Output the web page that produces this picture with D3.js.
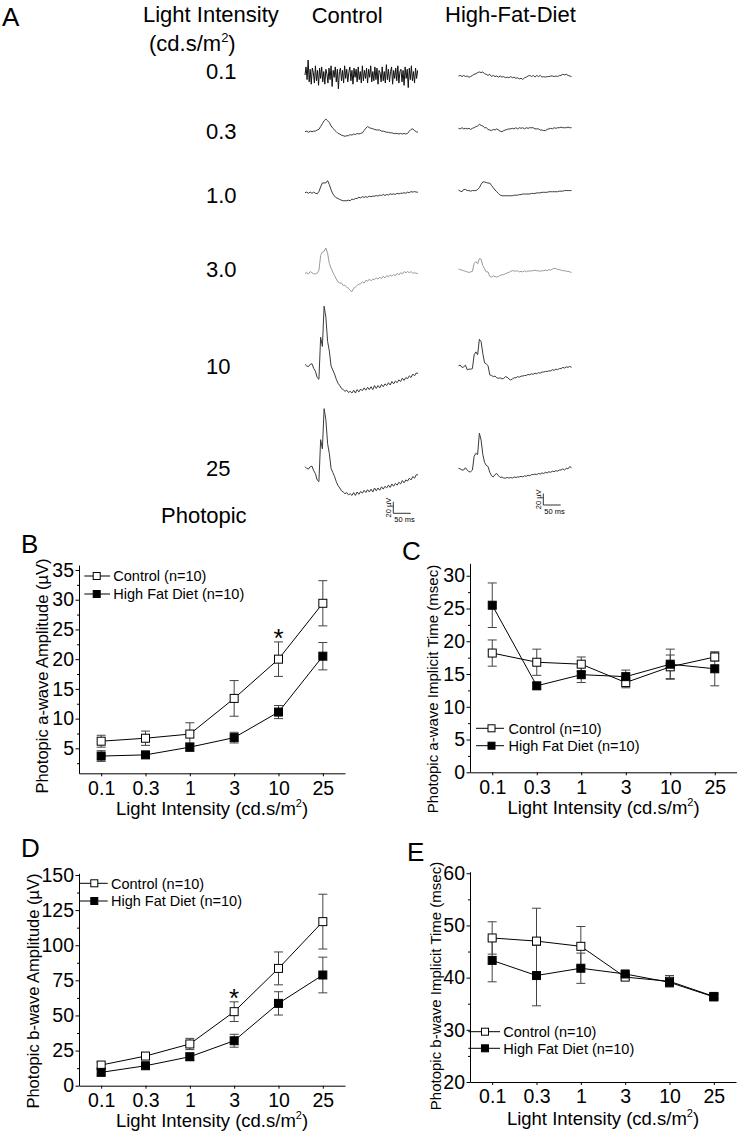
<!DOCTYPE html>
<html><head><meta charset="utf-8">
<script src="https://cdn.jsdelivr.net/npm/d3@7"></script>
<style>
body{margin:0;background:#fff}
svg{display:block}
text{font-family:"Liberation Sans",Arial,Helvetica,sans-serif;fill:#000}
</style>
</head><body>
<svg id="fig" width="737" height="1131"></svg>
<script>
// ================= DATA =================
const intensities = ["0.1","0.3","1","3","10","25"];
const intensityLabelsA = ["0.1","0.3","1.0","3.0","10","25"];
const seriesNames = ["Control (n=10)","High Fat Diet (n=10)"];

// B: photopic a-wave amplitude (µV)
const aAmpCtrl    = [6.2, 6.7, 7.4, 13.4, 20.0, 29.4];
const aAmpCtrlErr = [1.0, 1.2, 1.9, 3.0, 2.9, 3.8];
const aAmpHfd     = [3.7, 3.9, 5.2, 6.8, 11.1, 20.5];
const aAmpHfdErr  = [0.9, 0.5, 0.7, 0.9, 1.1, 2.3];
// C: photopic a-wave implicit time (msec)
const aTimeCtrl    = [18.2, 16.8, 16.5, 13.7, 16.1, 17.6];
const aTimeCtrlErr = [2.0, 2.0, 1.1, 0.8, 1.8, 0.6];
const aTimeHfd     = [25.5, 13.2, 14.9, 14.6, 16.5, 15.8];
const aTimeHfdErr  = [3.4, 0.5, 1.2, 1.0, 2.3, 2.6];
// D: photopic b-wave amplitude (µV)
const bAmpCtrl    = [14.7, 21.1, 29.7, 52.7, 83.5, 116.8];
const bAmpCtrlErr = [2.0, 2.0, 4.0, 7.0, 11.7, 19.5];
const bAmpHfd     = [9.5, 14.2, 20.6, 32.0, 58.6, 78.8];
const bAmpHfdErr  = [2.0, 1.5, 2.5, 4.6, 8.3, 12.7];
// E: photopic b-wave implicit time (msec)
const bTimeCtrl    = [47.6, 47.0, 46.0, 40.1, 39.3, 36.4];
const bTimeCtrlErr = [3.1, 6.3, 3.8, 0.5, 1.1, 0.4];
const bTimeHfd     = [43.3, 40.4, 41.8, 40.7, 39.1, 36.3];
const bTimeHfdErr  = [4.1, 5.8, 2.9, 0.5, 0.6, 0.4];

const sigB = ["10"];
const sigD = ["3"];

// A: ERG traces (µV), sampled every traceStepMs (noisy 0.1 control every noiseStepMs)
const traceStepMs = 5;
const noiseStepMs = 3;
const ctrl01 = [0,14,-8,26,-12,10,-16,12,4,-14,16,-10,8,-18,12,-6,14,-12,6,-16,10,2,-14,12,-8,16,-20,8,-4,14,-12,10,-24,6,12,-10,8,-14,16,-6,10,-12,4,14,-10,8,-16,12,-4,10,-12,14,-8,6,-14,16,-10,8,-6,12,-14,10,-4,16,-12,6,-10,14,-8,12,-16,8,4,-12,14,-10,6,-14,18,-8,10,-12,6,14,-16,8,-6,12,-10,16,-14,6,10,-12,8,-18,14,-6,10,-22,12,-8,16,-10,6,-14,12,-6,8];
const ctrl03 = [0,1,-1,1,0,1,1,3,4,9,14,19,22,19,16,10,6,3,0,-3,-4,-6,-7,-8,-7,-7,-5,-6,-4,-5,-3,-4,-3,-2,2,6,9,7,6,5,4,3,3,3,1,1,0,-1,-1,-2,-2,-3,-3,-3,-4,-3,-4,-3,-4,-3,1,4,5,2,0,-1];
const ctrl1 = [0,1,-1,1,-1,1,-1,-2,2,10,17,17,17,21,14,5,-2,-6,-9,-10,-12,-13,-14,-14,-14,-13,-14,-11,-12,-10,-10,-8,-9,-7,-8,-7,-8,-6,-7,-6,-6,-5,-6,-4,-5,-3,-5,-3,-4,-2,-3,-2,-3,-1,-2,-1,-1,0,-1,1,0,2,1,2,1,1];
const ctrl3 = [0,1,-1,3,1,-1,-1,0,5,31,37,38,44,35,17,9,2,-4,-10,-15,-17,-17,-21,-21,-24,-26,-30,-32,-26,-24,-21,-19,-18,-15,-17,-12,-14,-10,-13,-10,-11,-8,-10,-7,-9,-5,-8,-4,-6,-3,-5,-2,-4,0,-3,1,-1,3,1,3,1,3,0,1,0,0];
const ctrl10 = [0,-3,-4,0,1,-7,-12,-23,-26,47,31,101,82,40,23,-3,-10,-17,-26,-33,-37,-42,-44,-47,-45,-49,-47,-50,-45,-50,-44,-48,-43,-46,-41,-45,-40,-44,-39,-44,-37,-42,-37,-41,-35,-39,-34,-37,-32,-36,-30,-34,-29,-32,-27,-30,-24,-28,-23,-25,-20,-23,-17,-20,-15,-16];
const ctrl25 = [0,-3,-4,0,1,-7,-12,-23,-26,47,31,101,82,40,23,-3,-10,-17,-26,-33,-37,-42,-44,-47,-45,-49,-47,-50,-45,-50,-44,-48,-43,-46,-41,-45,-40,-44,-39,-44,-37,-42,-37,-41,-35,-39,-34,-37,-32,-36,-30,-34,-29,-32,-27,-30,-24,-28,-23,-25,-20,-23,-17,-20,-14,-14];
const hfd01 = [0,1,-1,1,-1,0,-2,-1,1,3,4,6,7,6,7,4,3,1,3,-1,1,-1,0,-2,0,-2,-1,-3,-2,-3,-1,-3,-2,-4,-3,-5,-4,-6,-3,-2,0,1,-1,1,-2,1,-1,1,-2,-1,-2,-1,-1,0,0,-1,0,-1,1,1,3,2,3,1,0,-1];
const hfd03 = [0,-1,1,-1,0,-1,0,-2,0,1,3,4,7,5,4,1,1,-2,-3,-4,-2,-3,-1,-3,-5,-6,-4,-3,-2,-1,-1,0,-1,1,-1,1,0,1,-1,1,0,1,1,1,-1,-1,-1,-3,-3,-4,-4,-2,-1,0,-1,1,0,1,1,2,1,1,1,2,1,1];
const hfd1 = [0,-2,-3,1,1,-1,-1,-2,-1,-1,-1,1,4,10,14,14,13,12,12,8,4,0,-3,-6,-9,-10,-10,-10,-10,-10,-10,-10,-9,-9,-9,-8,-8,-7,-7,-7,-7,-7,-6,-6,-6,-5,-5,-5,-4,-4,-4,-4,-3,-3,-3,-3,-3,-3,-2,-2,-2,-1,-1,-1,-1,-1];
const hfd3 = [0,-1,-2,-3,-4,-5,-6,-5,-4,10,13,9,18,17,6,0,-5,-5,-13,-14,-12,-13,-14,-13,-11,-10,-10,-8,-7,-6,-4,-3,-3,-4,-3,-5,-4,-5,-3,-5,-3,-4,-3,-3,-2,-3,-3,-4,-3,-3,-2,-3,-1,-2,0,1,1,-1,-1,-2,-3,-3,-4,-4,-5,-6];
const hfd10 = [0,1,-3,-2,1,-7,-6,-6,-5,19,24,19,46,42,21,5,3,0,-16,-17,-19,-18,-21,-22,-21,-23,-22,-19,-20,-23,-25,-23,-21,-21,-19,-20,-18,-18,-17,-17,-15,-16,-14,-15,-13,-14,-12,-13,-11,-11,-10,-10,-9,-9,-7,-8,-6,-7,-5,-5,-3,-4,-2,-3,-1,-3];
const hfd25 = [0,-1,-3,-3,1,-3,-6,-6,-3,21,26,24,61,49,24,10,5,3,-7,-13,-15,-11,-9,-13,-16,-15,-17,-17,-16,-17,-16,-17,-15,-16,-15,-15,-14,-15,-13,-14,-12,-13,-11,-11,-10,-11,-9,-10,-8,-9,-7,-8,-6,-7,-5,-6,-4,-5,-3,-3,-1,-3,0,-1,3,1];
const scaleBarUV = 20, scaleBarMs = 50;

// ================= DRAW =================
const FONT = '"Liberation Sans", Arial, Helvetica, sans-serif';
const svg = d3.select("#fig");

// ---- Panel A ----
const gA = svg.append("g");
gA.append("text").attr("x",2).attr("y",26).attr("font-size",26).text("A");
gA.append("text").attr("x",143).attr("y",22).attr("font-size",22).text("Light Intensity");
const unitT = gA.append("text").attr("x",149).attr("y",51).attr("font-size",22);
unitT.append("tspan").text("(cd.s/m");
unitT.append("tspan").attr("font-size",13).attr("dy",-9).text("2");
unitT.append("tspan").attr("dy",9).text(")");
gA.append("text").attr("x",311.7).attr("y",23).attr("font-size",22).text("Control");
gA.append("text").attr("x",445).attr("y",22).attr("font-size",22).text("High-Fat-Diet");

const labelBaseA = [79.3,139.3,203.3,276.7,374.3,476];
gA.selectAll("text.int").data(intensityLabelsA).join("text").attr("class","int")
  .attr("x",206).attr("y",(d,i)=>labelBaseA[i]).attr("font-size",22).text(d=>d);
gA.append("text").attr("x",161).attr("y",523.3).attr("font-size",22).text("Photopic");

const ctrlTraces = [ctrl01, ctrl03, ctrl1, ctrl3, ctrl10, ctrl25];
const hfdTraces  = [hfd01, hfd03, hfd1, hfd3, hfd10, hfd25];
const rowYCtrl = [75,131.7,192.7,273.3,364.3,466.7];
const rowYHfd  = [76,128.3,190,269,365.7,468.3];
const traceW = 113;
const amp = d3.scaleLinear().domain([0,20]).range([0,-11.5]);
function traceColor(i, isCtrl){ if(i===3) return "#9a9a9a"; if(i===0 && isCtrl) return "#111"; return "#3a3a3a"; }
function drawTraces(traces, x0, rowY, isCtrl){
  const t = d3.scaleLinear().domain([0,325]).range([x0, x0+traceW]);
  traces.forEach((arr,i)=>{
    const step = (isCtrl && i===0) ? noiseStepMs : traceStepMs;
    const line = d3.line().x((d,k)=>t(k*step)).y(d=>rowY[i]+amp(d));
    gA.append("path").attr("d",line(arr)).attr("fill","none")
      .attr("stroke",traceColor(i,isCtrl)).attr("stroke-width",1).attr("stroke-linejoin","round");
  });
  return t;
}
const tC = drawTraces(ctrlTraces, 305, rowYCtrl, true);
const tH = drawTraces(hfdTraces, 458.5, rowYHfd, false);

function scaleBar(t, cx, cy){
  const w = t(scaleBarMs)-t(0), h = -amp(scaleBarUV);
  gA.append("path").attr("d",`M${cx},${cy-h}V${cy}H${cx+w}`).attr("fill","none").attr("stroke","#333").attr("stroke-width",1);
  gA.append("text").attr("transform",`translate(${cx-2},${cy-h/2}) rotate(-90)`).attr("text-anchor","middle")
    .attr("font-size",7.5).attr("fill","#333").text(scaleBarUV+" µV");
  gA.append("text").attr("x",cx+1).attr("y",cy+8.5).attr("font-size",7.5).attr("fill","#333").text(scaleBarMs+" ms");
}
scaleBar(tC, 393.3, 513.3);
scaleBar(tH, 543.3, 505);

// ---- Panels B-E ----
function drawPanel(p){
  const g = svg.append("g");
  const x = d3.scalePoint().domain(intensities).range([p.left,p.right]).padding(0.5);
  const y = d3.scaleLinear().domain(p.yDomain).range([p.bottom,p.top]);
  g.append("g").attr("transform",`translate(${p.left},0)`)
    .call(d3.axisLeft(y).tickValues(p.minor).tickSize(2).tickFormat(""))
    .call(s=>s.select(".domain").remove())
    .selectAll("line").attr("stroke","#000");
  const ya = g.append("g").attr("transform",`translate(${p.left},0)`)
    .call(d3.axisLeft(y).tickValues(p.major).tickSize(3.5).tickPadding(1.5).tickSizeOuter(0));
  const xa = g.append("g").attr("transform",`translate(0,${p.bottom})`)
    .call(d3.axisBottom(x).tickSize(3).tickPadding(4.5).tickSizeOuter(0));
  [ya,xa].forEach(a=>{
    a.attr("font-family",FONT).attr("font-size",19.5);
    a.selectAll("text").attr("fill","#000");
    a.selectAll("line,path").attr("stroke","#000");
  });
  // labels
  g.append("text").attr("x",p.letter[0]).attr("y",p.letter[1]).attr("font-size",26).text(p.name);
  g.append("text").attr("transform",`translate(${p.ylab[0]},${p.ylab[1]}) rotate(-90)`)
    .attr("text-anchor","middle").attr("font-size",p.ylab[2]).text(p.ytitle);
  const xl = g.append("text").attr("x",(p.left+p.right)/2).attr("y",p.xlabY).attr("text-anchor","middle").attr("font-size",18.5);
  xl.append("tspan").text("Light Intensity (cd.s/m");
  xl.append("tspan").attr("font-size",11).attr("dy",-8).text("2");
  xl.append("tspan").attr("dy",8).text(")");
  // series
  const series = [
    {v:p.ctrl, e:p.ctrlErr, fill:"#fff"},
    {v:p.hfd,  e:p.hfdErr,  fill:"#000"}
  ];
  series.forEach(s=>{
    const eg = g.append("g").attr("stroke","#444").attr("stroke-width",1);
    intensities.forEach((c,i)=>{
      const cx = x(c), y1 = y(s.v[i]-s.e[i]), y2 = y(s.v[i]+s.e[i]);
      eg.append("line").attr("x1",cx).attr("x2",cx).attr("y1",y1).attr("y2",y2);
      eg.append("line").attr("x1",cx-4.5).attr("x2",cx+4.5).attr("y1",y1).attr("y2",y1);
      eg.append("line").attr("x1",cx-4.5).attr("x2",cx+4.5).attr("y1",y2).attr("y2",y2);
    });
  });
  series.forEach(s=>{
    const line = d3.line().x((d,i)=>x(intensities[i])).y(d=>y(d));
    g.append("path").attr("d",line(s.v)).attr("fill","none").attr("stroke","#000").attr("stroke-width",1);
    g.selectAll(null).data(s.v).join("rect")
      .attr("x",(d,i)=>x(intensities[i])-4).attr("y",d=>y(d)-4)
      .attr("width",8).attr("height",8).attr("fill",s.fill).attr("stroke","#000").attr("stroke-width",1);
  });
  // significance
  (p.sig||[]).forEach(c=>{
    const i = intensities.indexOf(c);
    const s = series[0];
    g.append("text").attr("x",x(c)).attr("y",y(s.v[i]+s.e[i])+5)
      .attr("text-anchor","middle").attr("font-size",26).text("*");
  });
  // legend
  const L = p.legend;
  series.forEach((s,k)=>{
    const ry = L.rows[k];
    g.append("line").attr("x1",L.x0).attr("x2",L.x1).attr("y1",ry).attr("y2",ry).attr("stroke","#000");
    g.append("rect").attr("x",L.sq-3.5).attr("y",ry-3.5).attr("width",7).attr("height",7)
      .attr("fill",s.fill).attr("stroke","#000");
    g.append("text").attr("x",L.tx).attr("y",ry+5.2).attr("font-size",14.5).text(seriesNames[k]);
  });
}

drawPanel({name:"B", letter:[21,553], left:79, right:345, top:565, bottom:773.3,
  yDomain:[0.8,35.84], major:[5,10,15,20,25,30,35], minor:[2.5,7.5,12.5,17.5,22.5,27.5,32.5],
  ctrl:aAmpCtrl, ctrlErr:aAmpCtrlErr, hfd:aAmpHfd, hfdErr:aAmpHfdErr, sig:sigB,
  ytitle:"Photopic a-wave Amplitude (µV)", ylab:[48,676,16.5], xlabY:815,
  legend:{rows:[576,594], x0:84.3, x1:110, sq:96.7, tx:113.3}});

drawPanel({name:"C", letter:[402,560], left:470, right:737, top:563.3, bottom:772.3,
  yDomain:[0,31.9], major:[0,5,10,15,20,25,30], minor:[2.5,7.5,12.5,17.5,22.5,27.5],
  ctrl:aTimeCtrl, ctrlErr:aTimeCtrlErr, hfd:aTimeHfd, hfdErr:aTimeHfdErr,
  ytitle:"Photopic a-wave Implicit Time (msec)", ylab:[437.5,689,15], xlabY:814,
  legend:{rows:[728.3,745.7], x0:476, x1:504, sq:491.5, tx:508.5}});

drawPanel({name:"D", letter:[21,857], left:79, right:345, top:873.3, bottom:1085.7,
  yDomain:[0,151.2], major:[0,25,50,75,100,125,150], minor:[12.5,37.5,62.5,87.5,112.5,137.5],
  ctrl:bAmpCtrl, ctrlErr:bAmpCtrlErr, hfd:bAmpHfd, hfdErr:bAmpHfdErr, sig:sigD,
  ytitle:"Photopic b-wave Amplitude (µV)", ylab:[38.5,991,16.5], xlabY:1127.3,
  legend:{rows:[883.3,901], x0:80, x1:107.7, sq:94.3, tx:111}});

drawPanel({name:"E", letter:[407,861], left:470, right:736, top:871.7, bottom:1082,
  yDomain:[20,60.3], major:[20,30,40,50,60], minor:[25,35,45,55],
  ctrl:bTimeCtrl, ctrlErr:bTimeCtrlErr, hfd:bTimeHfd, hfdErr:bTimeHfdErr,
  ytitle:"Photopic b-wave Implicit Time (msec)", ylab:[441,986,15], xlabY:1125,
  legend:{rows:[1031.7,1048.3], x0:468.3, x1:500, sq:485, tx:503.3}});
</script>
</body></html>
